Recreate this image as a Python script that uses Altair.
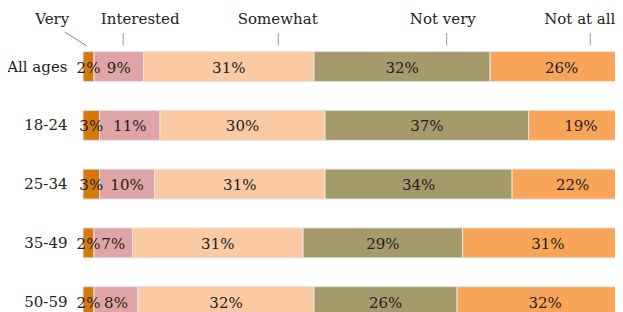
import altair as alt
import pandas as pd

groups = ["All ages", "18-24", "25-34", "35-49", "50-59"]
categories = ["Very", "Interested", "Somewhat", "Not very", "Not at all"]
values = {
    "All ages": [2, 9, 31, 32, 26],
    "18-24": [3, 11, 30, 37, 19],
    "25-34": [3, 10, 31, 34, 22],
    "35-49": [2, 7, 31, 29, 31],
    "50-59": [2, 8, 32, 26, 32],
}
colors = ["#D6790C", "#DFA5A6", "#FBCAA2", "#A59A6A", "#F8A55A"]

# header annotation positions (percent units)
label_x = [-5.6, 10.4, 35.4, 65.4, 90.3]
tick_x = [None, 7.3, 35.5, 66.1, 92.2]
very_line = {"x": -3.3, "x2": 0.7}

rows = []
for g in groups:
    start = 0
    for c, v in zip(categories, values[g]):
        rows.append({"group": g, "cat": c, "value": v, "start": start,
                     "end": start + v, "mid": start + v / 2, "label": f"{v}%"})
        start += v
df = pd.DataFrame(rows)

FONT = "DejaVu Serif"
xscale = alt.Scale(domain=[0, 96.7], nice=False, zero=False)
yscale = alt.Scale(domain=groups, range=[29.2, 323], paddingInner=0.49, paddingOuter=0.245)

base = alt.Chart(df)
bars = base.mark_rect(stroke="#e4e4e4", strokeWidth=1).encode(
    x=alt.X("start:Q", scale=xscale, axis=None),
    x2="end:Q",
    y=alt.Y("group:N", scale=yscale, sort=groups,
            axis=alt.Axis(title=None, ticks=False, domain=False, labelPadding=16,
                          labelFont=FONT, labelFontSize=15, labelColor="#222")),
    color=alt.Color("cat:N", scale=alt.Scale(domain=categories, range=colors), legend=None),
)
texts = base.mark_text(font=FONT, fontSize=15, color="#222", baseline="middle", dy=1).encode(
    x=alt.X("mid:Q", scale=xscale),
    y=alt.Y("group:N", scale=yscale, sort=groups),
    text="label:N",
)

hdr = pd.DataFrame({"cat": categories, "lx": label_x, "tx": tick_x})
header_text = alt.Chart(hdr).mark_text(font=FONT, fontSize=15, color="#222",
                                       baseline="alphabetic", align="center").encode(
    x=alt.X("lx:Q", scale=xscale), y=alt.value(15.5), text="cat:N")
ticks = alt.Chart(hdr[hdr["tx"].notna()]).mark_rule(color="#999", strokeWidth=1).encode(
    x=alt.X("tx:Q", scale=xscale), y=alt.value(25), y2=alt.value(37.5))
vl = pd.DataFrame([very_line])
diag = alt.Chart(vl).mark_rule(color="#888", strokeWidth=1).encode(
    x=alt.X("x:Q", scale=xscale), x2="x2:Q", y=alt.value(24), y2=alt.value(38))

chart = alt.layer(bars, texts, header_text, ticks, diag).properties(
    width=532, height=304,
    autosize=alt.AutoSizeParams(type="none"),
    padding={"left": 75, "top": 0, "right": 0, "bottom": 0},
).configure_view(stroke=None)

chart.save("out.html", embed_options={"renderer": "svg", "actions": False})
